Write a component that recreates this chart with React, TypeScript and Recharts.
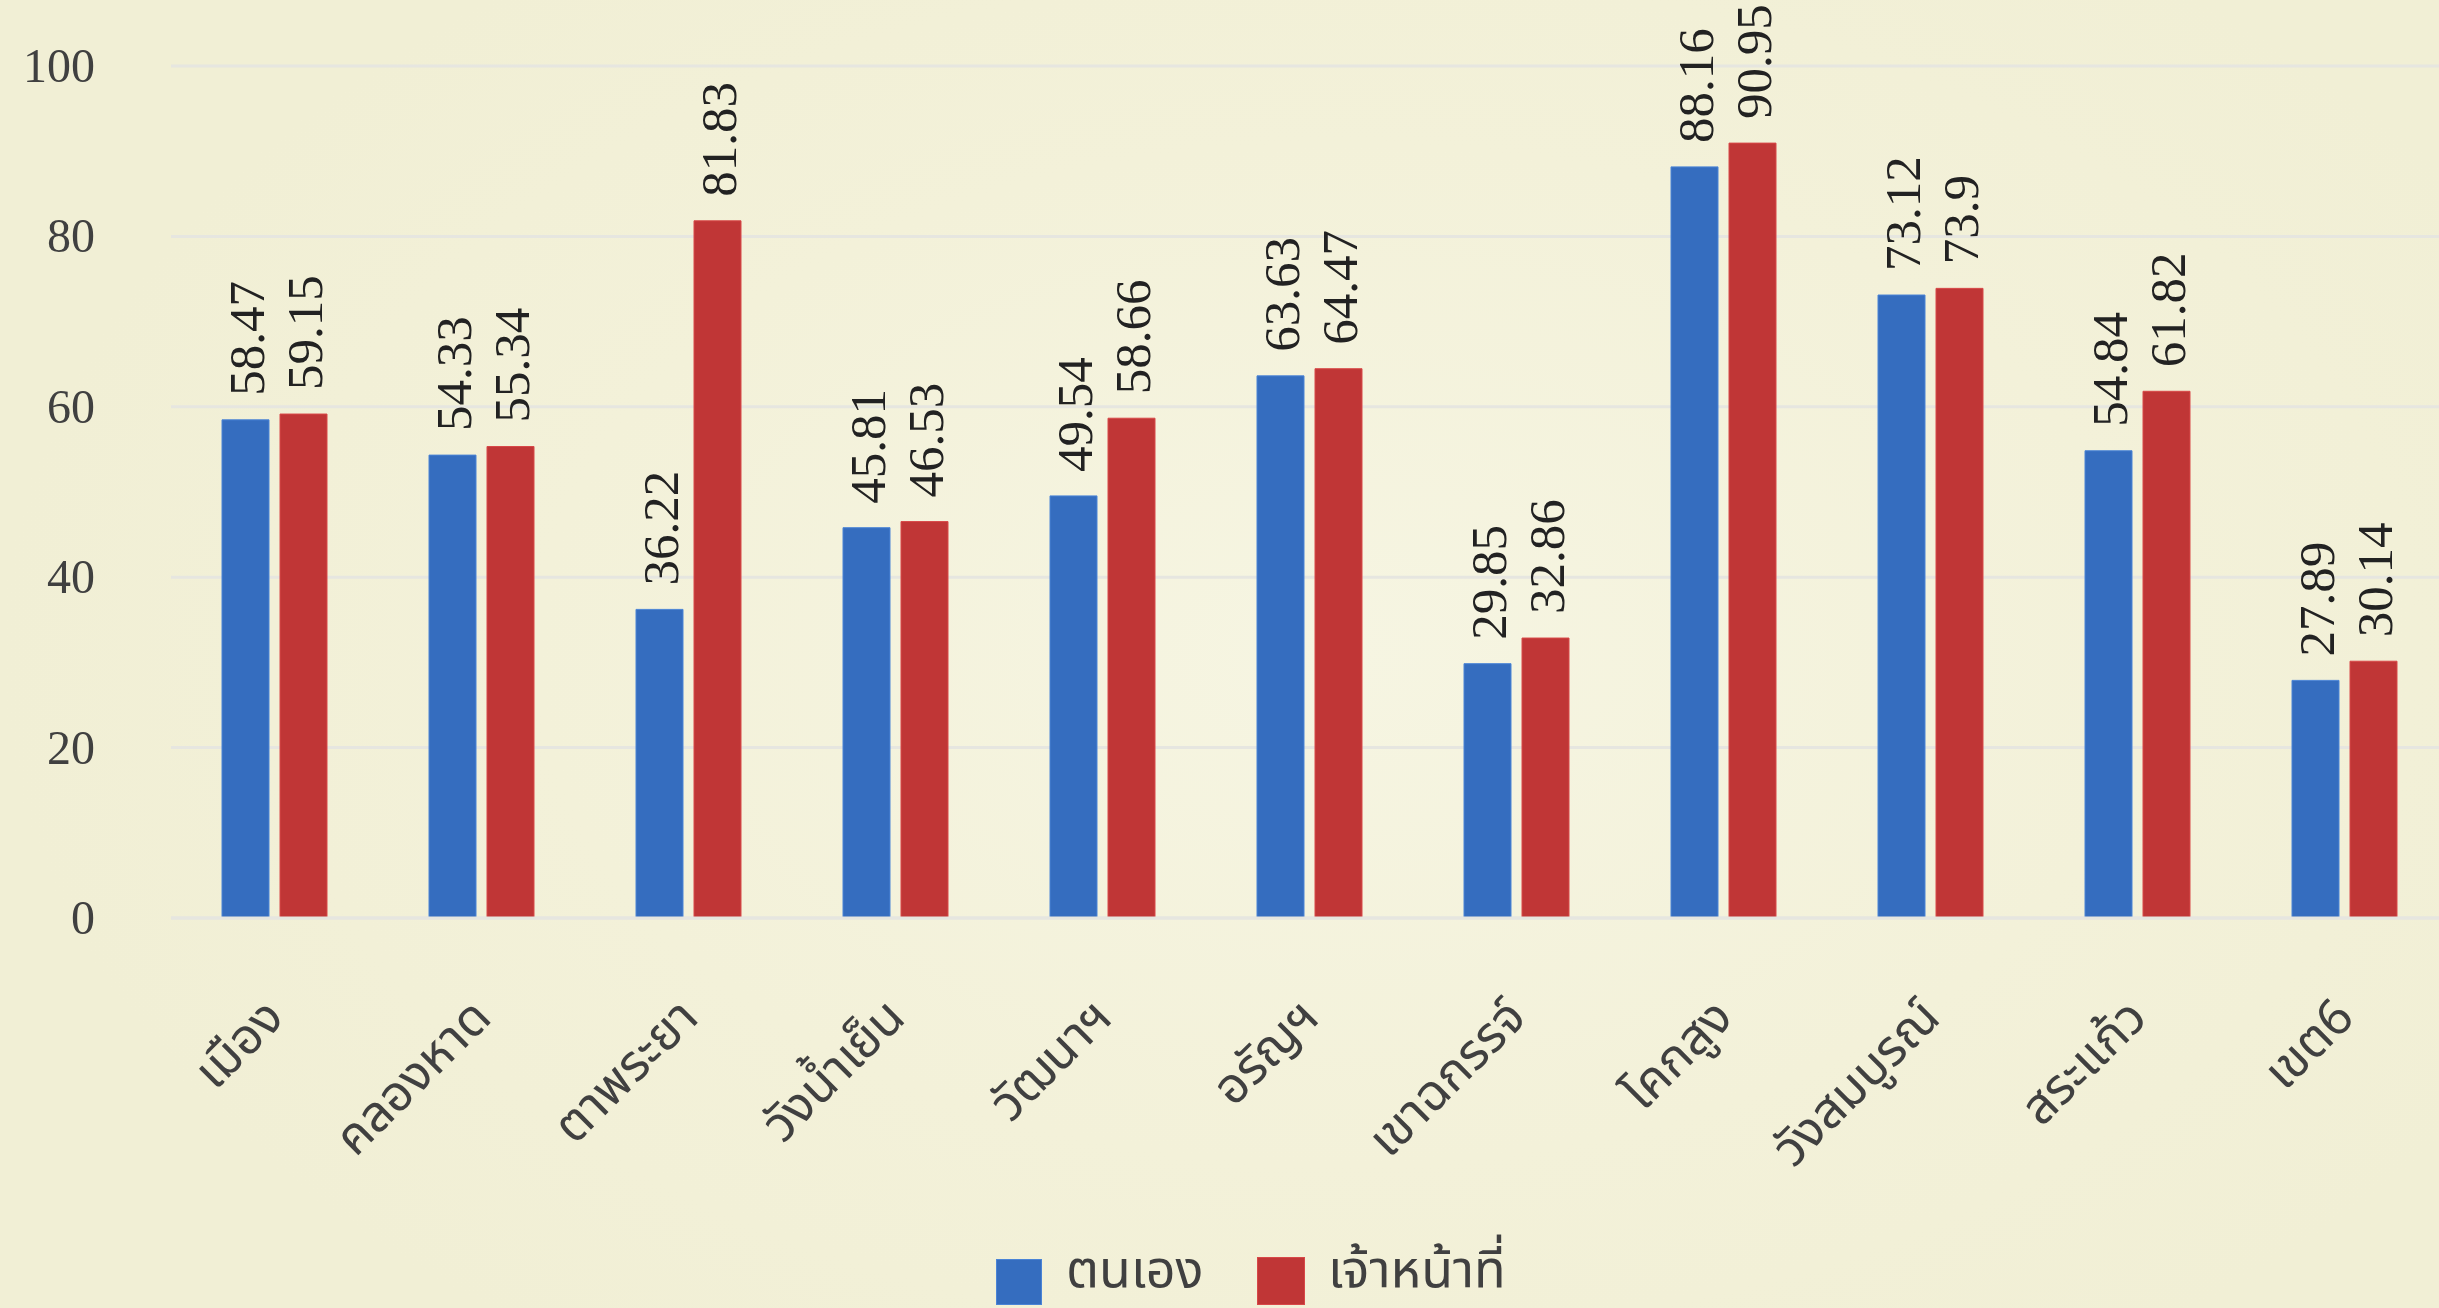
import React from "react";
import { BarChart, Bar, XAxis, YAxis, CartesianGrid, LabelList, Legend } from "recharts";

const categories = ["เมือง", "คลองหาด", "ตาพระยา", "วังน้ำเย็น", "วัฒนาฯ", "อรัญฯ", "เขาฉกรรจ์", "โคกสูง", "วังสมบูรณ์", "สระแก้ว", "เขต6"];
const selfValues = [58.47, 54.33, 36.22, 45.81, 49.54, 63.63, 29.85, 88.16, 73.12, 54.84, 27.89];
const staffValues = [59.15, 55.34, 81.83, 46.53, 58.66, 64.47, 32.86, 90.95, 73.9, 61.82, 30.14];
const yTicks = [0, 20, 40, 60, 80, 100];
const seriesNames = { self: "ตนเอง", staff: "เจ้าหน้าที่" };

const data = categories.map((name, i) => ({ name, self: selfValues[i], staff: staffValues[i] }));

const BLUE = "#356DBF";
const RED = "#C03636";
const THAI_FONT = '"Noto Sans Thai", "Noto Sans Thai UI", "Noto Looped Thai", Loma, Garuda, "Tlwg Typo", Tahoma, sans-serif';
const SERIF = '"Liberation Serif", "Times New Roman", serif';

const XTick = (props: any) => {
  const { x, y, payload } = props;
  const ax = x + 12;
  const ay = y + 102;
  return (
    <text x={ax} y={ay} transform={`rotate(-45, ${ax}, ${ay})`} textAnchor="end" fontSize={50} fill="#404040" fontFamily={THAI_FONT}>
      {payload.value}
    </text>
  );
};

const YTick = (props: any) => {
  const { x, y, payload } = props;
  return (
    <text x={x - 76} y={y} dy={16} textAnchor="end" fontSize={48} fill="#404040" fontFamily={SERIF}>
      {payload.value}
    </text>
  );
};

const ValueLabel = (props: any) => {
  const { x, y, width, value } = props;
  const px = x + width / 2 + 18;
  const py = y - 24;
  return (
    <text transform={`translate(${px},${py}) rotate(-90)`} x={0} y={0} textAnchor="start" fontSize={51} fill="#222222" fontFamily={SERIF}>
      {value}
    </text>
  );
};

const LegendContent = () => (
  <div style={{ position: "relative", width: 2439, height: 50 }}>
    <div style={{ position: "absolute", left: 996, top: 4, width: 46, height: 46, background: BLUE, border: "1px solid #4A84D6", boxSizing: "border-box" }} />
    <div style={{ position: "absolute", left: 1066, top: -10, fontSize: 52, lineHeight: "52px", color: "#404040", fontFamily: THAI_FONT, whiteSpace: "nowrap" }}>{seriesNames.self}</div>
    <div style={{ position: "absolute", left: 1257, top: 2, width: 48, height: 48, background: RED, border: "1px solid #D84848", boxSizing: "border-box" }} />
    <div style={{ position: "absolute", left: 1328, top: -10, fontSize: 52, lineHeight: "52px", color: "#404040", fontFamily: THAI_FONT, whiteSpace: "nowrap" }}>{seriesNames.staff}</div>
  </div>
);

export default function App() {
  return (
    <div
      style={{
        position: "fixed",
        left: 0,
        top: 0,
        width: 2439,
        height: 1308,
        overflow: "hidden",
        background: "radial-gradient(ellipse 55% 65% at 55% 50%, #F6F5E2 0%, #F3F1D9 60%, #F1EFD5 100%)",
      }}
    >
      <BarChart
        width={2448}
        height={1308}
        data={data}
        margin={{ top: 66, right: 0, bottom: 0, left: 0 }}
        barSize={47}
        barGap={11}
      >
        <CartesianGrid vertical={false} stroke="#E6E6E0" strokeWidth={3} />
        <XAxis
          dataKey="name"
          height={390}
          tick={<XTick />}
          tickLine={false}
          tickSize={0}
          tickMargin={0}
          interval={0}
          axisLine={{ stroke: "#E6E6E0", strokeWidth: 3 }}
        />
        <YAxis
          width={171}
          domain={[0, 100]}
          ticks={yTicks}
          tick={<YTick />}
          tickLine={false}
          tickSize={0}
          tickMargin={0}
          axisLine={false}
        />
        <Legend
          layout="horizontal"
          verticalAlign="middle"
          align="center"
          wrapperStyle={{ top: 1255, left: 0, width: 2439 }}
          content={<LegendContent />}
        />
        <Bar dataKey="self" name={seriesNames.self} fill={BLUE} stroke="#4A84D6" strokeWidth={1} isAnimationActive={false}>
          <LabelList dataKey="self" content={<ValueLabel />} />
        </Bar>
        <Bar dataKey="staff" name={seriesNames.staff} fill={RED} stroke="#D84848" strokeWidth={1} isAnimationActive={false}>
          <LabelList dataKey="staff" content={<ValueLabel />} />
        </Bar>
      </BarChart>
    </div>
  );
}
